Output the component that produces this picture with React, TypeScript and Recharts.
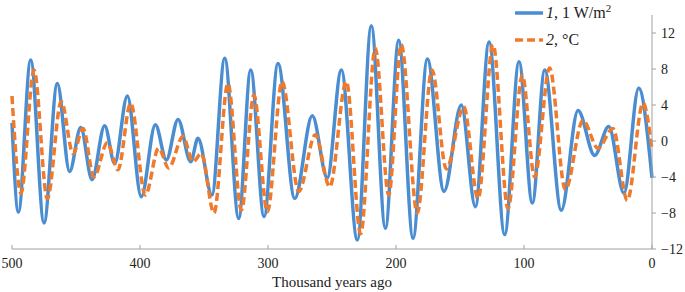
import { LineChart, Line, XAxis, YAxis, Legend } from "recharts";

// ages in thousand years ago (peaks/troughs)
const forcingAges = [
  500, 495, 485.4, 475, 464.6, 455, 446.3, 437.5, 427.6, 419.8, 409.9, 399, 388,
  379.4, 370.3, 360.4, 354.7, 343.8, 333.8, 322.9, 313.5, 303.1, 292.2, 279.1,
  265.4, 253.7, 242.7, 230.2, 219.3, 208.3, 197.9, 186.7, 175.5, 162.5, 149,
  138, 127.3, 115.1, 103.9, 93.5, 83.8, 70.9, 57.8, 44.8, 33.8, 21.9, 10.4, 0,
];
const forcingValues = [
  2.0, -7.9, 9.0, -9.1, 6.4, -3.4, 1.5, -4.3, 1.7, -2.5, 5.0, -6.2, 1.8, -2.1,
  2.4, -2.3, 0.3, -6.0, 9.2, -8.6, 7.9, -8.4, 8.6, -6.4, 2.8, -4.1, 7.9, -11.0,
  12.8, -9.7, 11.2, -10.8, 9.1, -5.6, 4.0, -7.3, 11.0, -10.4, 8.8, -6.9, 7.9,
  -7.7, 3.4, -1.6, 1.6, -5.8, 5.85, -4.1,
];

const tempAges = [
  500, 493, 482.8, 472.4, 461.5, 452.3, 444.5, 436, 425.5, 417.2, 407.3, 395.8,
  385.4, 377.6, 366.4, 358.6, 352.1, 342.2, 331.3, 320.8, 311, 300.5, 289, 276,
  263, 251.8, 238.8, 227.6, 216.2, 205.7, 195.9, 183.4, 171.9, 160.7, 147.1,
  135.9, 124.2, 112.5, 101.3, 91.7, 80, 67.7, 53.9, 42.2, 30.5, 19.3, 7, 0,
];
const tempValues = [
  5.0, -5.8, 7.9, -6.4, 4.4, -1.4, 1.4, -4.0, -0.2, -3.2, 4.2, -6.0, -0.8, -3.0,
  0.5, -2.3, -1.4, -8.0, 6.4, -7.7, 5.1, -7.85, 6.6, -5.6, 0.7, -5.1, 6.6,
  -10.3, 10.3, -6.0, 10.7, -8.0, 7.9, -3.1, 3.8, -6.4, 10.7, -7.5, 7.3, -4.0,
  8.1, -5.4, 2.3, -0.8, 1.4, -6.6, 4.2, -1.0,
];

const xTicks = [0, 100, 200, 300, 400, 500];
const yTicks = [-12, -8, -4, 0, 4, 8, 12];

const forcing = forcingAges.map((age, i) => ({ age, v: forcingValues[i] }));
const temp = tempAges.map((age, i) => ({ age, v: tempValues[i] }));

const BLUE = "#4a8dd0";
const ORANGE = "#f07a2c";
const FONT = "'Liberation Serif', 'Times New Roman', serif";
const AXIS = "#a0a0a0";

const LegendBox = () => (
  <svg width={170} height={55}>
    <line x1={5} x2={33} y1={13} y2={13} stroke={BLUE} strokeWidth={3.5} />
    <text x={36} y={18} fontSize={16} fill="#222">
      <tspan fontStyle="italic">1</tspan>, 1 W/m
      <tspan fontSize={11} dy={-6}>2</tspan>
    </text>
    <line x1={5} x2={33} y1={40} y2={40} stroke={ORANGE} strokeWidth={3.5} strokeDasharray="8 4" />
    <text x={36} y={45} fontSize={16} fill="#222">
      <tspan fontStyle="italic">2</tspan>, °C
    </text>
  </svg>
);

export default function App() {
  return (
    <div style={{ width: 685, height: 292 }}>
      <style>{`body{margin:0} svg text{font-family:${FONT} !important}`}</style>
      <LineChart width={685} height={292} margin={{ top: 15, right: 0, left: 12, bottom: 0 }}>
        <XAxis
          dataKey="age"
          type="number"
          domain={[0, 500]}
          reversed
          ticks={xTicks}
          stroke={AXIS}
          tickSize={-4}
          tickMargin={13}
          height={43}
          tick={{ fill: "#222", fontSize: 14 }}
          label={{ value: "Thousand years ago", position: "insideBottom", offset: 5, fill: "#222", fontSize: 15 }}
        />
        <YAxis
          orientation="right"
          width={33}
          domain={[-12, 14]}
          ticks={yTicks}
          allowDataOverflow
          stroke={AXIS}
          tickSize={4}
          tickMargin={5}
          tick={{ fill: "#222", fontSize: 14 }}
          tickFormatter={(v: number) => String(v).replace("-", "\u2212")}
        />
        <Legend
          layout="horizontal"
          verticalAlign="middle"
          align="center"
          content={() => <LegendBox />}
          wrapperStyle={{ top: 0, left: 510, width: 170, height: 55 }}
        />
        <Line
          data={forcing}
          dataKey="v"
          type="monotoneX"
          stroke={BLUE}
          strokeWidth={3.5}
          dot={false}
          isAnimationActive={false}
        />
        <Line
          data={temp}
          dataKey="v"
          type="monotoneX"
          stroke={ORANGE}
          strokeWidth={3.5}
          strokeDasharray="8 4"
          dot={false}
          isAnimationActive={false}
        />
      </LineChart>
    </div>
  );
}
